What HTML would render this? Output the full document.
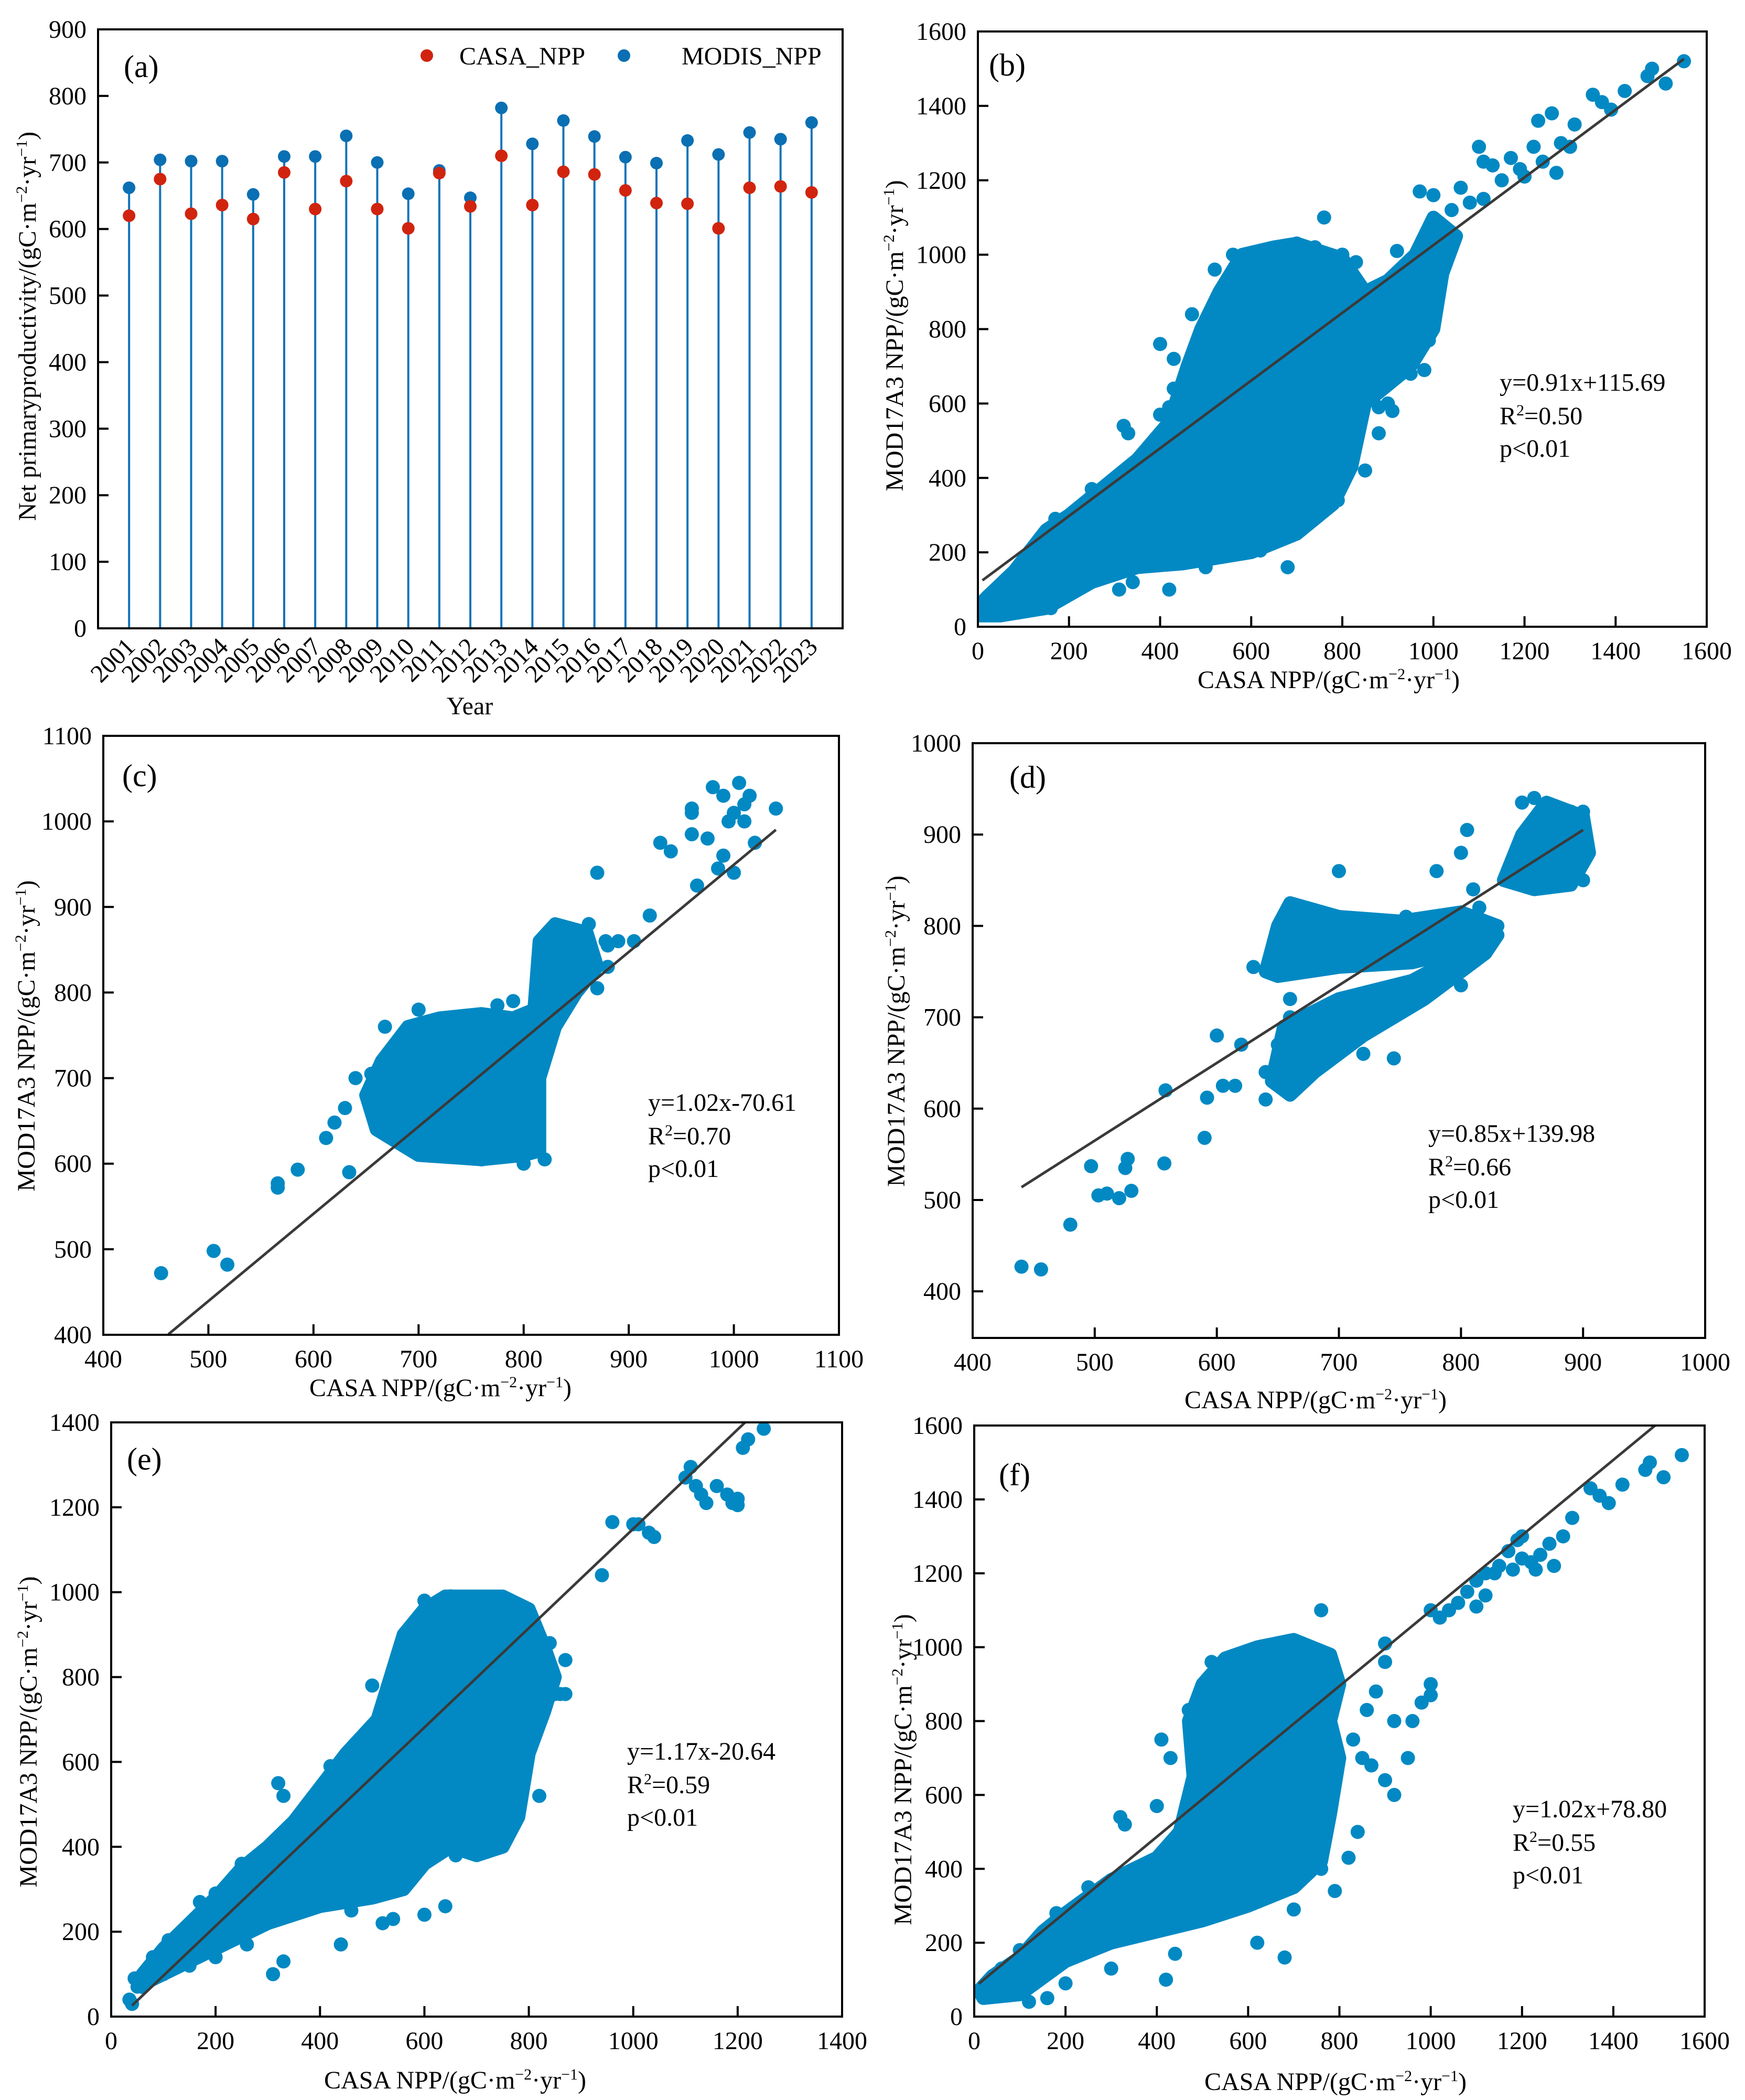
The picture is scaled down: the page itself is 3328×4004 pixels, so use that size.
<!DOCTYPE html>
<html><head><meta charset="utf-8"><style>
html,body{margin:0;padding:0;background:#fff;}
svg{display:block;font-family:"Liberation Serif",serif;}
</style></head><body>
<svg id="fig" xmlns="http://www.w3.org/2000/svg" width="3328" height="4004" viewBox="0 0 3328 4004">
<rect width="3328" height="4004" fill="#fff"/>
</svg>
<script>
// ---------- Panel (a) data ----------
const years = ["2001","2002","2003","2004","2005","2006","2007","2008","2009","2010","2011","2012","2013","2014","2015","2016","2017","2018","2019","2020","2021","2022","2023"];
const modisNpp = [662,704,702,702,652,709,709,740,700,653,688,647,782,728,763,739,708,699,733,712,745,735,760];
const casaNpp = [620,675,623,636,615,685,630,672,630,601,684,634,710,636,686,682,658,639,638,601,662,664,655];
const aYTicks = [0,100,200,300,400,500,600,700,800,900];

// ---------- Panel (b) data ----------
const bPtsX = [1100,1110,1130,1150,1170,1190,1200,1220,1230,1240,1260,1270,1280,1300,1310,1350,1370,1390,1420,1470,1480,1510,1550,1060,1080,1110,1040,1000,970,1020,760,430,400,470,520,320,330,420,440,500,680,620,650,690,720,310,340,160,290,200,560,600,920,950,980,980,990,900,910,880,830,820,790,780,750,940,980,1000,250,170,430,400,420,470,700,740,830,800,540,510,580,860,870,850,880,600,560,520];
const bPtsY = [1290,1250,1240,1200,1260,1230,1210,1290,1360,1250,1380,1220,1300,1290,1350,1430,1410,1390,1440,1480,1500,1460,1520,1180,1140,1150,1120,1160,1170,1010,1100,720,760,840,960,540,520,100,170,160,160,205,260,290,310,100,120,50,140,90,1000,1000,1010,680,690,840,770,600,580,590,500,430,340,380,440,760,890,890,370,290,640,570,590,600,1030,1020,980,1000,230,260,250,620,660,420,520,240,250,300];
const bCoreX = [5,50,150,250,350,450,500,600,700,780,820,850,900,950,1000,1020,1050,1000,960,900,850,800,700,650,580,530,490,460,420,350,300,200,150,80,20,5];
const bCoreY = [30,30,50,120,160,170,180,200,250,330,430,600,650,700,800,950,1050,1100,1000,930,900,990,1030,1020,1000,900,800,700,550,450,400,300,260,150,80,60];
const bTicks = [0,200,400,600,800,1000,1200,1400,1600];
const bFit = [0.91,115.69];

// ---------- Panel (c) data ----------
const cPtsX = [455,505,518,566,566,585,612,620,634,630,640,655,668,700,730,790,775,820,800,760,870,878,862,880,870,880,890,905,920,930,940,960,965,975,980,990,995,1000,1010,1005,1015,1020,1000,985,1040,960,990,1010,960,700,850,840];
const cPtsY = [472,498,482,577,572,593,630,648,590,665,700,705,760,780,740,790,785,605,600,605,940,860,880,855,805,830,860,860,890,975,965,1015,925,980,1040,1030,1000,1010,1020,1045,1030,975,940,945,1015,985,960,1000,1010,660,840,850];
const cCoreX = [660,700,760,800,815,815,830,850,870,860,830,815,810,790,760,720,690,665,650];
const cCoreY = [640,610,605,610,615,700,760,800,830,870,880,860,780,770,775,770,760,720,680];
const cTicks = [400,500,600,700,800,900,1000,1100];
const cFit = [1.02,-70.61];

// ---------- Panel (d) data ----------
const dPtsX = [440,456,480,497,503,510,520,525,527,530,557,558,590,592,600,605,615,620,630,640,660,700,720,745,755,780,800,805,815,810,840,850,860,870,880,890,900,900,890,880,860,820,800,790,805,640,650,660,670,690,700,730,660];
const dPtsY = [427,424,473,537,505,507,502,535,545,510,540,620,568,612,680,625,625,670,755,610,628,860,660,655,810,860,880,905,820,840,850,935,940,915,880,925,925,850,905,850,845,800,735,790,800,640,670,700,650,690,710,700,720];
const dCore1X = [640,650,660,700,750,800,830,820,760,700,650];
const dCore1Y = [750,800,825,810,805,815,800,780,760,755,745];
const dCore2X = [645,655,700,760,830,820,770,720,680,660];
const dCore2Y = [630,690,720,740,790,770,720,680,640,615];
const dCore3X = [835,850,870,900,905,890,860];
const dCore3Y = [850,900,935,920,880,845,840];
const dTicks = [400,500,600,700,800,900,1000];
const dFit = [0.85,139.98];

// ---------- Panel (e) data ----------
const ePtsX = [35,40,45,60,80,100,110,130,160,170,200,220,250,260,280,310,320,330,330,350,390,420,440,460,520,540,600,640,660,720,760,780,820,850,870,940,960,1000,1010,1030,1040,1100,1110,1120,1130,1140,1160,1180,1190,1200,1200,1210,1220,1250,870,860,840,500,540,470,440,380,600,650,700,760,150,200,260,300,360,120,230];
const ePtsY = [40,30,90,70,140,100,180,140,200,270,290,200,360,250,330,100,550,130,520,390,320,590,170,250,220,230,240,260,380,420,430,500,520,760,760,1040,1165,1160,1160,1140,1130,1270,1295,1250,1230,1210,1250,1230,1210,1205,1220,1340,1360,1385,840,760,880,780,800,470,450,420,980,990,980,980,120,140,170,230,300,160,240];
const eCoreX = [560,600,650,700,750,780,800,830,850,830,800,750,700,640,600,560,540,510,450,400,350,300,250,200,150,100,60,50,100,200,300,400,500];
const eCoreY = [300,360,400,380,400,470,620,720,800,870,960,990,990,990,960,900,820,700,620,540,460,400,350,280,220,160,100,70,100,160,220,260,280];
const eTicks = [0,200,400,600,800,1000,1200,1400];
const eFit = [1.17,-20.64];

// ---------- Panel (f) data ----------
const fPtsX = [830,850,870,900,920,950,960,980,1000,1000,900,920,860,880,840,820,790,760,700,680,620,420,440,330,320,430,410,400,470,520,760,900,1000,1020,1040,1060,1080,1100,1120,1150,1170,1190,1200,1220,1240,1260,1270,1290,1310,1350,1370,1390,1420,1470,1480,1510,1550,1200,1180,1230,1140,1100,1120,160,200,300,120,80,60,100,140,180,250,350,40,20];
const fPtsY = [750,700,680,640,600,700,800,850,900,870,960,800,830,880,500,430,340,400,290,160,200,100,170,520,540,700,750,570,830,960,1100,1010,1100,1080,1100,1120,1150,1180,1200,1220,1260,1290,1300,1230,1250,1280,1220,1300,1350,1430,1410,1390,1440,1480,1500,1460,1520,1240,1210,1210,1200,1110,1140,50,90,130,40,90,130,180,190,280,350,390,60,55];
const fCoreX = [20,100,200,300,400,500,600,700,760,780,800,780,800,780,700,620,550,500,470,480,450,400,300,200,150,100,40,10];
const fCoreY = [50,60,150,200,230,260,300,350,420,550,700,800,900,980,1020,1000,970,900,800,650,500,430,370,280,230,160,110,70];
const fFit = [1.02,78.80];

// ---------- helpers ----------
const NS = "http://www.w3.org/2000/svg";
const svg = document.getElementById("fig");
function mk(tag, attrs, parent) {
  const e = document.createElementNS(NS, tag);
  for (const k in attrs) e.setAttribute(k, attrs[k]);
  (parent || svg).appendChild(e);
  return e;
}
const FS = 48;
const DOT = "#0289c3";

function axes(p) {
  const g = mk("g", {});
  
  
  p.sx = v => p.L + (v - p.xmin) / (p.xmax - p.xmin) * (p.R - p.L);
  p.sy = v => p.B - (v - p.ymin) / (p.ymax - p.ymin) * (p.B - p.T);
  p.g = g;
  const cp = mk("clipPath", {id: "clip-" + p.id}, g);
  mk("rect", {x: p.L, y: p.T, width: p.R - p.L, height: p.B - p.T}, cp);
  p.plot = mk("g", {"clip-path": "url(#clip-" + p.id + ")"}, g);
  
  
  const yg = mk("g", {}, g);
  
  
  p.yticks.forEach(v => {
    const y = p.sy(v);
    mk("line", {x1: p.L, x2: p.L + 20, y1: y, y2: y, stroke: "#000", "stroke-width": 4}, yg);
    const t = mk("text", {x: p.L - 22, y: y + 16, "font-size": FS, "text-anchor": "end"}, yg);
    t.textContent = v;
    
    
  });
  if (p.xticks) {
    const xg = mk("g", {}, g);
    
    
    p.xticks.forEach(v => {
      const x = p.sx(v);
      mk("line", {x1: x, x2: x, y1: p.B, y2: p.B - 20, stroke: "#000", "stroke-width": 4}, xg);
      const t = mk("text", {x: x, y: p.B + 62, "font-size": FS, "text-anchor": "middle"}, xg);
      t.textContent = v;
      
      
    });
  }
  const lab = mk("text", {x: p.labX, y: p.labY, "font-size": 60}, g);
  lab.textContent = "(" + p.id + ")";
  
  
  return p;
}
function frame(p) {
  const r = mk("rect", {x: p.L, y: p.T, width: p.R - p.L, height: p.B - p.T, fill: "none", stroke: "#000", "stroke-width": 4}, p.g);
  
  
}
function unitTitle(parent, x, y, prefix, rotate, name) {
  const t = mk("text", {x: x, y: y, "font-size": FS, "text-anchor": "middle"}, parent);
  if (rotate) t.setAttribute("transform", "rotate(-90 " + x + " " + y + ")");
  
  
  const parts = [[prefix + "/(gC·m", 0], ["−2", 1], ["·yr", 0], ["−1", 1], [")", 0]];
  let prevSup = false;
  parts.forEach(([s, sup]) => {
    const dy = sup ? -17 : (prevSup ? 17 : 0);
    const ts = mk("tspan", sup ? {dy: dy, "font-size": 30} : {dy: dy}, t);
    ts.textContent = s;
    prevSup = !!sup;
  });
  return t;
}

// ---------- Panel (a) ----------
const pa = axes({id: "a", L: 187, R: 1607, T: 56, B: 1198, xmin: -1, xmax: 23, ymin: 0, ymax: 900, yticks: aYTicks, labX: 236, labY: 147});
years.forEach((yr, i) => {
  const x = pa.sx(i);
  const stem = mk("line", {x1: x, x2: x, y1: pa.B, y2: pa.sy(modisNpp[i]), stroke: "#1173b8", "stroke-width": 4}, pa.plot);
  
  
  const mb = mk("circle", {cx: x, cy: pa.sy(modisNpp[i]), r: 12, fill: "#0a6fb3"}, pa.plot);
  
  
  const mr = mk("circle", {cx: x, cy: pa.sy(casaNpp[i]), r: 12, fill: "#d0240f"}, pa.plot);
  
  
  const tx = x + 14, ty = pa.B + 38;
  const t = mk("text", {x: tx, y: ty, "font-size": FS, "text-anchor": "end", transform: "rotate(-45 " + tx + " " + ty + ")"}, pa.g);
  t.textContent = yr;
  
  
});
frame(pa);
{
  const lg = mk("g", {}, pa.g);
  
  
  const c1 = mk("circle", {cx: 814, cy: 106, r: 12, fill: "#d0240f"}, lg);
  
  
  const t1 = mk("text", {x: 876, y: 123, "font-size": FS}, lg);
  t1.textContent = "CASA_NPP";
  
  
  const c2 = mk("circle", {cx: 1190, cy: 106, r: 12, fill: "#0a6fb3"}, lg);
  
  
  const t2 = mk("text", {x: 1300, y: 123, "font-size": FS}, lg);
  t2.textContent = "MODIS_NPP";
  
  
  const xt = mk("text", {x: 896, y: 1362, "font-size": FS, "text-anchor": "middle"}, pa.g);
  xt.textContent = "Year";
  
  
  unitTitle(pa.g, 68, 622, "Net primaryproductivity", true, 'y-axis-title');
}

// ---------- Scatter panels ----------
function scatter(p, px, py, cores, fit, fitRange, eq, titles) {
  axes(p);
  cores.forEach(([cx, cy], k) => {
    let d = "";
    cx.forEach((v, i) => { d += (i ? "L" : "M") + p.sx(v).toFixed(1) + " " + p.sy(cy[i]).toFixed(1); });
    const path = mk("path", {d: d + "Z", fill: DOT, stroke: DOT, "stroke-width": 26, "stroke-linejoin": "round"}, p.plot);
    
    
  });
  px.forEach((v, i) => {
    const c = mk("circle", {cx: p.sx(v), cy: p.sy(py[i]), r: 13.5, fill: DOT}, p.plot);
    
    
  });
  const [a, b] = fit;
  const fl = mk("line", {x1: p.sx(fitRange[0]), y1: p.sy(a * fitRange[0] + b), x2: p.sx(fitRange[1]), y2: p.sy(a * fitRange[1] + b), stroke: "#3a3a3a", "stroke-width": 5}, p.plot);
  
  
  frame(p);
  const eg = mk("g", {"font-size": FS}, p.g);
  
  
  const t1 = mk("text", {x: eq.x, y: eq.y}, eg);
  t1.textContent = "y=" + a.toFixed(2) + "x" + (b < 0 ? "-" + (-b).toFixed(2) : "+" + b.toFixed(2));
  const t2 = mk("text", {x: eq.x, y: eq.y + 64}, eg);
  const s1 = mk("tspan", {}, t2); s1.textContent = "R";
  const s2 = mk("tspan", {dy: -17, "font-size": 30}, t2); s2.textContent = "2";
  const s3 = mk("tspan", {dy: 17}, t2); s3.textContent = "=" + eq.r2;
  const t3 = mk("text", {x: eq.x, y: eq.y + 126}, eg);
  t3.textContent = "p<0.01";
  unitTitle(p.g, titles.xx, titles.xy, "CASA NPP", false, 'x-axis-title');
  unitTitle(p.g, titles.yx, titles.yy, "MOD17A3 NPP", true, 'y-axis-title');
}

scatter({id: "b", L: 1865, R: 3255, T: 60, B: 1195, xmin: 0, xmax: 1600, ymin: 0, ymax: 1600, xticks: bTicks, yticks: bTicks, labX: 1886, labY: 144},
  bPtsX, bPtsY, [[bCoreX, bCoreY]], bFit, [10, 1550], {x: 2860, y: 745, r2: "0.50"},
  {xx: 2534, xy: 1312, yx: 1722, yy: 640});

scatter({id: "c", L: 197, R: 1600, T: 1403, B: 2545, xmin: 400, xmax: 1100, ymin: 400, ymax: 1100, xticks: cTicks, yticks: cTicks, labX: 233, labY: 1499},
  cPtsX, cPtsY, [[cCoreX, cCoreY]], cFit, [462, 1040], {x: 1236, y: 2118, r2: "0.70"},
  {xx: 840, xy: 2662, yx: 66, yy: 1975});

scatter({id: "d", L: 1855, R: 3252, T: 1417, B: 2551, xmin: 400, xmax: 1000, ymin: 349, ymax: 1000, xticks: dTicks, yticks: dTicks, labX: 1925, labY: 1502},
  dPtsX, dPtsY, [[dCore1X, dCore1Y], [dCore2X, dCore2Y], [dCore3X, dCore3Y]], dFit, [440, 900], {x: 2724, y: 2177, r2: "0.66"},
  {xx: 2509, xy: 2685, yx: 1725, yy: 1966});

scatter({id: "e", L: 212, R: 1606, T: 2712, B: 3845, xmin: 0, xmax: 1400, ymin: 0, ymax: 1400, xticks: eTicks, yticks: eTicks, labX: 242, labY: 2802},
  ePtsX, ePtsY, [[eCoreX, eCoreY]], eFit, [40, 1220], {x: 1196, y: 3355, r2: "0.59"},
  {xx: 868, xy: 3982, yx: 70, yy: 3302});

scatter({id: "f", L: 1858, R: 3251, T: 2718, B: 3845, xmin: 0, xmax: 1600, ymin: 0, ymax: 1600, xticks: bTicks, yticks: bTicks, labX: 1905, labY: 2832},
  fPtsX, fPtsY, [[fCoreX, fCoreY]], fFit, [10, 1500], {x: 2885, y: 3465, r2: "0.55"},
  {xx: 2547, xy: 3985, yx: 1738, yy: 3374});
</script>
</body></html>
